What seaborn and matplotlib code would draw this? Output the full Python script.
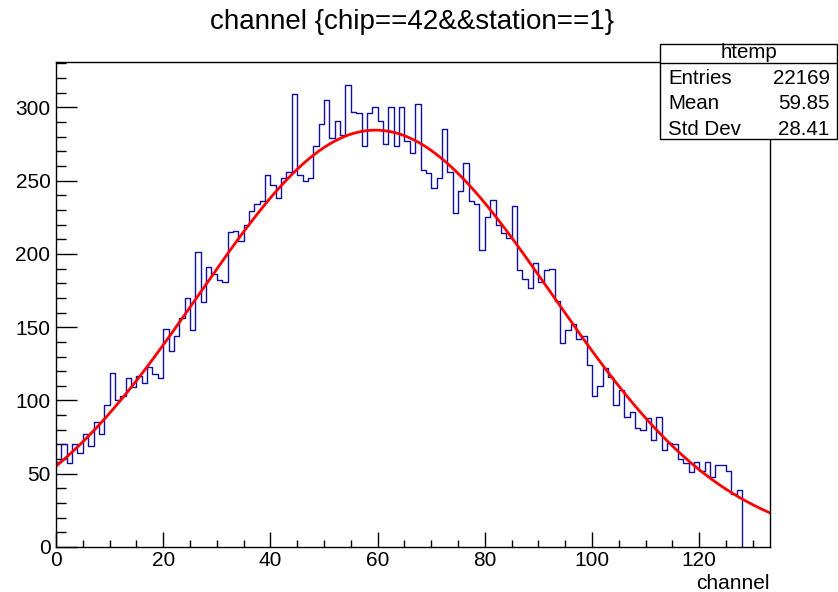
import numpy as np
import pandas as pd
import matplotlib
matplotlib.use("Agg")
import matplotlib.pyplot as plt
import seaborn as sns
from matplotlib.patches import Rectangle
from matplotlib.ticker import MultipleLocator

# histogram contents, one entry per channel bin (0..127)
counts = [58, 70, 57, 70, 64, 77, 69, 85, 77, 97,
          119, 100, 103, 115, 109, 117, 112, 123, 118, 115,
          149, 134, 144, 156, 170, 148, 201, 167, 191, 186,
          182, 181, 215, 216, 209, 220, 229, 234, 236, 254,
          247, 238, 252, 256, 309, 254, 250, 252, 274, 289,
          305, 279, 291, 281, 315, 297, 296, 274, 296, 300,
          291, 275, 300, 274, 300, 277, 269, 302, 257, 255,
          245, 252, 285, 256, 228, 243, 262, 236, 234, 203,
          225, 237, 220, 214, 211, 233, 189, 183, 177, 194,
          181, 189, 190, 168, 139, 148, 152, 142, 144, 124,
          103, 110, 122, 116, 97, 107, 89, 92, 81, 80,
          88, 73, 89, 66, 71, 70, 60, 57, 51, 58,
          52, 58, 48, 56, 56, 52, 36, 39]
channels = list(range(len(counts)))

# gaussian fit parameters
fit_const = 284.5
fit_mean = 59.6
fit_sigma = 32.9

stats_rows = [("Entries", "22169"), ("Mean", "59.85"), ("Std Dev", "28.41")]

sns.set_style("ticks")
plt.rcParams['font.family'] = ['Liberation Sans', 'DejaVu Sans']
plt.rcParams['text.color'] = 'black'
plt.rcParams['axes.labelcolor'] = 'black'
plt.rcParams['xtick.color'] = 'black'
plt.rcParams['ytick.color'] = 'black'

W, H = 838, 592
fig = plt.figure(figsize=(W / 100, H / 100), dpi=100)
ax = fig.add_axes([56 / W, 1 - 547 / H, (770 - 56) / W, (547 - 62) / H])

hist_color = "#10109c"
df = pd.DataFrame({"channel": np.array(channels) + 0.5, "n": counts})
sns.histplot(data=df, x="channel", weights="n", binwidth=1, binrange=(0, len(counts)),
             element="step", fill=False, color=hist_color, linewidth=1.0, ax=ax)
# ROOT closes the outline down to zero after the last bin
ax.vlines(len(counts), 0, counts[-1], color=hist_color, linewidth=1.0)

xf = np.linspace(0, 133.2, 400)
yf = fit_const * np.exp(-0.5 * ((xf - fit_mean) / fit_sigma) ** 2)
sns.lineplot(x=xf, y=yf, color="red", linewidth=2.0, ax=ax)

ax.set_xlim(0, 133.2)
ax.set_ylim(0, 331)
ax.xaxis.set_major_locator(MultipleLocator(20))
ax.xaxis.set_minor_locator(MultipleLocator(5))
ax.yaxis.set_major_locator(MultipleLocator(50))
ax.yaxis.set_minor_locator(MultipleLocator(10))
ax.tick_params(which='both', direction='in', labelsize=15, width=1,
               color='black', labelcolor='black')
ax.tick_params(axis='x', which='major', length=10.5, pad=3)
ax.tick_params(axis='x', which='minor', length=5.2)
ax.tick_params(axis='y', which='major', length=15, pad=4)
ax.tick_params(axis='y', which='minor', length=7.5)
for s in ax.spines.values():
    s.set_linewidth(1)
    s.set_color('black')
ax.set_ylabel("")
ax.set_xlabel("channel", loc='right', fontsize=15, labelpad=3, color='black')

fig.text(412 / W, 1 - 22 / H, "channel {chip==42&&station==1}",
         ha='center', va='center', fontsize=20, color='black')

# stats box
bx0, bx1, by0, by1 = 660, 837, 44, 139
fig.patches.append(Rectangle((bx0 / W, 1 - by1 / H), (bx1 - bx0) / W, (by1 - by0) / H,
                             transform=fig.transFigure, facecolor='white',
                             edgecolor='black', linewidth=1, zorder=5))
fig.add_artist(plt.Line2D([bx0 / W, bx1 / W], [1 - 63 / H, 1 - 63 / H],
                          transform=fig.transFigure, color='black', linewidth=1, zorder=6))
fig.text(748.5 / W, 1 - 52 / H, "htemp", ha='center', va='center',
         fontsize=14.8, color='black', zorder=7)
for i, (name, val) in enumerate(stats_rows):
    yy = 1 - (78.3 + 25.5 * i) / H
    fig.text(668 / W, yy, name, ha='left', va='center', fontsize=14.8, color='black', zorder=7)
    fig.text(829.5 / W, yy, val, ha='right', va='center', fontsize=14.8, color='black', zorder=7)

fig.savefig("out.png", dpi=100)
